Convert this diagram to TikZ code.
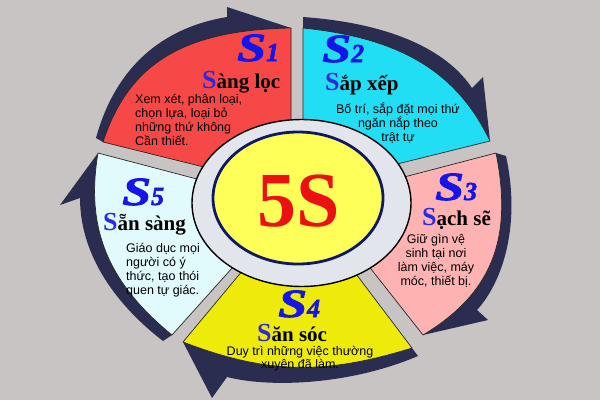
\documentclass[tikz,border=0pt]{standalone}
\usepackage{fontspec}
\usepackage{graphicx}
\setmainfont{Liberation Serif}
\newfontfamily\bodyfont{Liberation Sans}
\newfontfamily\labfont[BoldItalicFeatures={FakeBold=2}]{Liberation Serif}
\definecolor{bgc}{RGB}{200,196,196}
\definecolor{navy}{RGB}{42,44,80}
\definecolor{cone}{RGB}{247,72,72}
\definecolor{ctwo}{RGB}{34,222,245}
\definecolor{cthree}{RGB}{255,178,178}
\definecolor{cfour}{RGB}{238,234,10}
\definecolor{cfive}{RGB}{225,250,252}
\definecolor{cyel}{RGB}{255,255,90}
\definecolor{ringc}{RGB}{226,230,236}
\definecolor{innav}{RGB}{16,24,100}
\definecolor{sblue}{RGB}{20,20,235}
\definecolor{tblue}{RGB}{45,40,225}
\definecolor{fivered}{RGB}{236,16,16}
\newcommand{\bigS}[1]{\scalebox{1.3}[1]{S}{\fontsize{26}{26}\selectfont #1}}
\newcommand{\titS}[1]{{\color{tblue}\fontsize{26}{26}\selectfont S}#1}
\tikzset{
  seg/.style={draw=black!85, line width=0.7pt, line join=round},
  band/.style={fill=navy},
  snum/.style={anchor=base west, inner sep=0pt, text=sblue, font=\labfont\fontsize{40}{40}\selectfont\bfseries\itshape},
  stitle/.style={anchor=base west, inner sep=0pt, font=\fontsize{21}{21}\selectfont\bfseries},
  body/.style={inner sep=0pt, font=\fontsize{12.5}{14}\bodyfont},
}
\begin{document}
\begin{tikzpicture}[x=1pt,y=-1pt]
\useasboundingbox (0,0) rectangle (600,400);
\fill[bgc] (0,0) rectangle (600,400);
% arrow bands
\fill[band] (96,138) .. controls (118,58) and (172,26) .. (227,17) -- (227,7) -- (291,28) -- (103,142) -- cycle;
\fill[band] (303,17) .. controls (400,24) and (450,55) .. (472,88) -- (483,77) -- (490,141) -- (303,28) -- cycle;
\fill[band] (506,156) .. controls (522,230) and (500,285) .. (477,310) -- (488,320) -- (423,335) -- (496,153) -- cycle;
\fill[band] (418,356) .. controls (350,385) and (270,388) .. (227,377) -- (212,398) -- (183,342) -- (412,348) -- cycle;
\fill[band] (163,341) .. controls (110,300) and (80,250) .. (80,198) -- (60,205) -- (98,153) -- (172,335) -- cycle;
% segments
\filldraw[seg, fill=cone] (103,142) .. controls (128,66) and (180,30) .. (291,28) -- (291,150) -- (220,171) -- cycle;
\filldraw[seg, fill=ctwo] (303,28) .. controls (401,38) and (457,72) .. (490,141) -- (385,167) -- (303,150) -- cycle;
\filldraw[seg, fill=cthree] (385,182) -- (496,153) .. controls (513.5,240) and (491,294) .. (423,335) -- (360,255) -- cycle;
\filldraw[seg, fill=cfour] (350,266) -- (412,348) .. controls (323.6,375.4) and (266.3,373.9) .. (183,342) -- (248,264) -- cycle;
\filldraw[seg, fill=cfive] (242,257) -- (172,335) .. controls (107.6,282.4) and (85.3,227.9) .. (98,153) -- (212,183) -- cycle;
% centre
\filldraw[fill=ringc, draw=black, line width=1.4pt] (301.5,203) ellipse [x radius=109.5, y radius=83.5];
\filldraw[fill=cyel, draw=innav, line width=2.8pt] (298,198) ellipse [x radius=85, y radius=66];
\node[text=fivered, inner sep=0pt, font=\fontsize{78}{78}\selectfont\bfseries] (five) at (299,201) {5S};
% S labels
\node[snum] (n1) at (237,61) {\bigS{1}};
\node[snum] (n2) at (322,62) {\bigS{2}};
\node[snum] (n3) at (435,200) {\bigS{3}};
\node[snum] (n4) at (278,317) {\bigS{4}};
\node[snum] (n5) at (122,205) {\bigS{5}};
% titles
\node[stitle] (t1) at (202,88) {\titS{àng lọc}};
\node[stitle] (t2) at (325,90) {\titS{ắp xếp}};
\node[stitle] (t3) at (422,225) {\titS{ạch sẽ}};
\node[stitle] (t4) at (257,341) {\titS{ăn sóc}};
\node[stitle] (t5) at (103,230) {\titS{ẵn sàng}};
% bodies
\foreach \t [count=\i] in {{Xem xét, phân loại,},{chọn lựa, loại bỏ},{những thứ không},{Cần thiết.}}
  \node[body, anchor=base west] (a\i) at (135,{89+14*\i}) {\t};
\foreach \t [count=\i] in {{Bố trí, sắp đặt mọi thứ},{ngăn nắp theo},{trật tự}}
  \node[body, anchor=base] (b\i) at (398,{99+14*\i}) {\t};
\foreach \t [count=\i] in {{Giữ gìn vệ},{sinh tại nơi},{làm việc, máy},{móc, thiết bị.}}
  \node[body, anchor=base] (c\i) at (436,{228.7+14.3*\i}) {\t};
\foreach \t [count=\i] in {{Duy trì những việc thường},{xuyên đã làm.}}
  \node[body, anchor=base] (d\i) at (300,{342+13*\i}) {\t};
\foreach \t [count=\i] in {{Giáo dục mọi},{người có ý},{thức, tạo thói},{quen tự giác.}}
  \node[body, anchor=base west] (e\i) at (126,{238+14*\i}) {\t};
\end{tikzpicture}
\end{document}
